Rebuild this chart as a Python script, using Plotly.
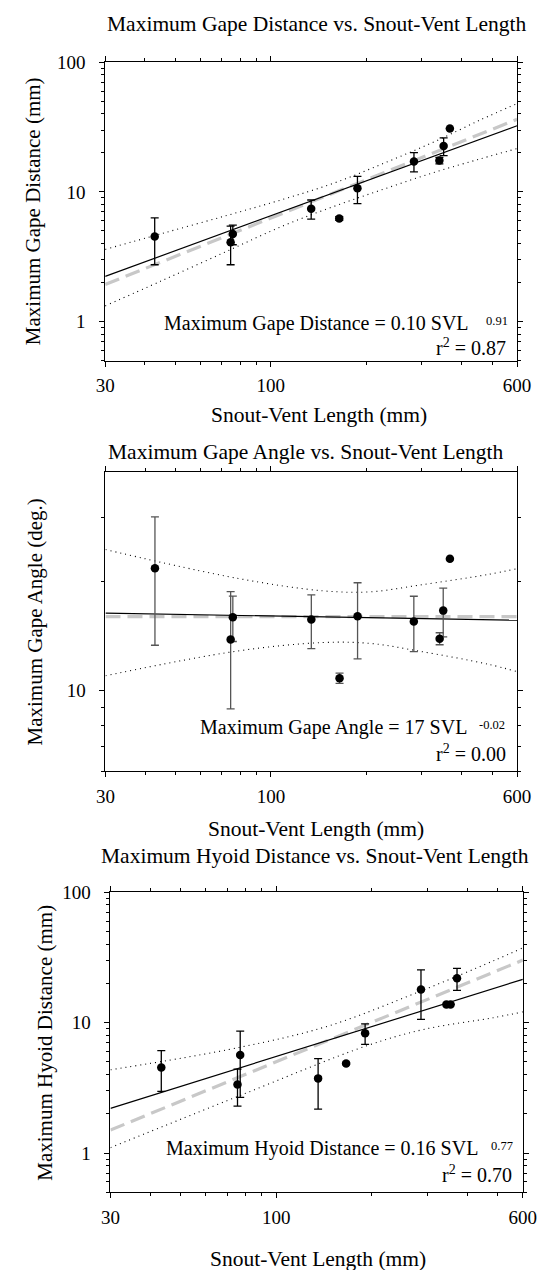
import math
import plotly.graph_objects as go

W, H = 555, 1270
FONT = "Liberation Serif"

# ---------------- data ----------------
# Panel 1: Maximum Gape Distance (mm)
gd_svl = [43.0, 75.9, 74.7, 134.2, 164.6, 187.9, 283.4, 341.0, 351.7, 368.0]
gd_val = [4.52, 4.73, 4.09, 7.41, 6.24, 10.66, 17.16, 17.46, 22.6, 30.9]
gd_err = [1.78, 0.82, 1.35, 1.25, 0.2, 2.53, 2.9, 1.0, 3.55, None]
gd_fit_x = [30, 600]
gd_fit_y = [2.23, 32.4]
gd_alt_y = [1.93, 36.3]
gd_band_x = [30, 45, 73, 110, 160, 230, 330, 460, 600]
gd_band_hi = [3.6, 4.75, 6.6, 8.8, 11.8, 16.8, 24.5, 36.0, 48.0]
gd_band_lo = [1.32, 2.05, 3.5, 5.5, 7.8, 10.6, 14.2, 18.0, 21.6]

# Panel 2: Maximum Gape Angle (deg.)
ga_svl = [43.0, 75.8, 74.6, 134.2, 164.8, 187.9, 283.0, 341.5, 350.5, 368.0]
ga_val = [21.75, 15.95, 13.84, 15.72, 10.83, 16.05, 15.52, 13.92, 16.63, 23.1]
ga_err = [8.4, 2.28, 4.93, 2.66, 0.35, 3.8, 2.7, 0.53, 2.56, None]
ga_fit_x = [30, 600]
ga_fit_y = [16.36, 15.65]
ga_alt_y = [16.0, 16.0]
ga_band_x = [30, 78, 146, 207, 294, 483, 600]
ga_band_hi = [24.5, 20.43, 18.86, 18.74, 19.55, 20.9, 21.7]
ga_band_lo = [11.0, 12.86, 13.58, 13.5, 12.86, 11.85, 11.29]

# Panel 3: Maximum Hyoid Distance (mm)
hd_svl = [43.4, 77.0, 75.5, 135.6, 166.2, 190.8, 286.3, 344.4, 355.0, 372.0]
hd_val = [4.54, 5.64, 3.35, 3.74, 4.87, 8.3, 18.0, 13.8, 13.8, 21.9]
hd_err = [1.57, 2.97, 1.06, 1.57, 0.1, 1.48, 7.4, None, None, 4.2]
hd_fit_x = [30, 600]
hd_fit_y = [2.2, 21.5]
hd_alt_y = [1.5, 30.2]
hd_hi_x = [30, 76.5, 146.6, 286, 483, 600]
hd_band_hi = [4.35, 6.46, 9.46, 17.5, 29.7, 37.5]
hd_lo_x = [30, 76.5, 193, 294, 483, 600]
hd_band_lo = [1.10, 2.75, 6.65, 8.91, 10.9, 12.1]

# tick definitions
x_ticks = [30, 100, 600]
x_ticktext = ["30", "100", "600"]
x_minor = [40, 50, 60, 70, 80, 90, 200, 300, 400, 500]
y_ticks_mm = [1, 10, 100]
y_ticktext_mm = ["1", "10", "100"]
y_minor_mm = [0.5, 0.6, 0.7, 0.8, 0.9, 2, 3, 4, 5, 6, 7, 8, 9, 20, 30, 40, 50, 60, 70, 80, 90]
y_ticks_deg = [10]
y_ticktext_deg = ["10"]
y_minor_deg = [6, 7, 8, 9, 20, 30]

titles = ["Maximum Gape Distance vs. Snout-Vent Length",
          "Maximum Gape Angle vs. Snout-Vent Length",
          "Maximum Hyoid Distance vs. Snout-Vent Length"]
y_titles = ["Maximum Gape Distance (mm)", "Maximum Gape Angle (deg.)",
            "Maximum Hyoid Distance (mm)"]
x_title = "Snout-Vent Length (mm)"
eq_texts = ["Maximum Gape Distance = 0.10 SVL", "Maximum Gape Angle = 17 SVL",
            "Maximum Hyoid Distance = 0.16 SVL"]
eq_exps = ["0.91", "-0.02", "0.77"]
r2_texts = ["r<sup>2</sup> = 0.87", "r<sup>2</sup> = 0.00", "r<sup>2</sup> = 0.70"]

# ---------------- layout geometry (pixels) ----------------
def fx(px):
    return px / W

def fy(py):
    return 1 - py / H

panels = [
    dict(x0=99.5, x1=530, y0=52.7, y1=353.3, yr=[math.log10(0.5), 2]),
    dict(x0=99.8, x1=530, y0=466, y1=767.3, yr=[math.log10(6), math.log10(40)]),
    dict(x0=105, x1=536, y0=889.3, y1=1191.7, yr=[math.log10(0.5), 2]),
]

fig = go.Figure()

series = [
    (gd_svl, gd_val, gd_err, gd_fit_x, gd_fit_y, gd_alt_y, gd_band_x, gd_band_hi, gd_band_x, gd_band_lo, "#000000"),
    (ga_svl, ga_val, ga_err, ga_fit_x, ga_fit_y, ga_alt_y, ga_band_x, ga_band_hi, ga_band_x, ga_band_lo, "#555555"),
    (hd_svl, hd_val, hd_err, hd_fit_x, hd_fit_y, hd_alt_y, hd_hi_x, hd_band_hi, hd_lo_x, hd_band_lo, "#000000"),
]

for i, (sx, sy, se, fxv, fyv, ayv, bhx, bhy, blx, bly, ecol) in enumerate(series):
    xa = "x" if i == 0 else f"x{i+1}"
    ya = "y" if i == 0 else f"y{i+1}"
    common = dict(xaxis=xa, yaxis=ya, showlegend=False, hoverinfo="skip")
    fig.add_trace(go.Scatter(x=bhx, y=bhy, mode="lines", line_shape="spline",
                             line=dict(color="black", width=1.1, dash="1px,4px"), **common))
    fig.add_trace(go.Scatter(x=blx, y=bly, mode="lines", line_shape="spline",
                             line=dict(color="black", width=1.1, dash="1px,4px"), **common))
    fig.add_trace(go.Scatter(x=fxv, y=ayv, mode="lines",
                             line=dict(color="#c8c8c8", width=3.2, dash="15px,7px"), **common))
    fig.add_trace(go.Scatter(x=fxv, y=fyv, mode="lines",
                             line=dict(color="black", width=1.2), **common))
    fig.add_trace(go.Scatter(x=sx, y=sy, mode="markers",
                             marker=dict(color="black", size=8.5, symbol="circle"),
                             error_y=dict(type="data", array=se, symmetric=True, color=ecol,
                                          thickness=1.3, width=4),
                             **common))

tickfont = dict(family=FONT, size=19, color="black")

for i, p in enumerate(panels):
    sfx = "" if i == 0 else str(i + 1)
    xdom = [fx(p["x0"]), fx(p["x1"])]
    ydom = [fy(p["y1"]), fy(p["y0"])]
    fig.layout["xaxis" + sfx] = dict(
        type="log", range=[math.log10(30), math.log10(600)], domain=xdom,
        anchor="y" + sfx, tickvals=x_ticks, ticktext=x_ticktext,
        ticks="outside", ticklen=5, tickwidth=1, tickcolor="black",
        minor=dict(tickvals=x_minor, ticks="outside", ticklen=3, tickwidth=1,
                   tickcolor="black", showgrid=False),
        showline=True, linecolor="black", linewidth=1, mirror="allticks",
        showgrid=False, zeroline=False, tickfont=tickfont, ticklabelstandoff=3)
    if i == 1:
        yt, ytt, ym = y_ticks_deg, y_ticktext_deg, y_minor_deg
    else:
        yt, ytt, ym = y_ticks_mm, y_ticktext_mm, y_minor_mm
    fig.layout["yaxis" + sfx] = dict(
        type="log", range=p["yr"], domain=ydom, anchor="x" + sfx,
        tickvals=yt, ticktext=ytt,
        ticks="outside", ticklen=5, tickwidth=1, tickcolor="black",
        minor=dict(tickvals=ym, ticks="outside", ticklen=3, tickwidth=1,
                   tickcolor="black", showgrid=False),
        showline=True, linecolor="black", linewidth=1, mirror="allticks",
        showgrid=False, zeroline=False, tickfont=tickfont, ticklabelstandoff=10)

ann = []

def add_text(text, px, py, size, xanchor="center", yanchor="middle", angle=0):
    ann.append(dict(text=text, x=fx(px), y=fy(py), xref="paper", yref="paper",
                    xanchor=xanchor, yanchor=yanchor, showarrow=False, textangle=angle,
                    font=dict(family=FONT, size=size, color="black")))

title_pos = [(320, 14), (309, 446), (318.6, 853)]
xt_pos = [(322.7, 408), (320, 826), (322, 1259)]
yt_pos = [(24.8, 203), (26.5, 617), (37, 1040.5)]
eq_pos = [(482, 315.5), (480, 723), (491, 1147.5)]
exp_pos = [(495, 313), (488.5, 721), (501, 1145)]
r2_pos = [(521, 340), (521, 749), (527, 1173)]

for i in range(3):
    add_text(titles[i], *title_pos[i], 21.5)
    add_text(x_title, *xt_pos[i], 21.5)
    add_text(y_titles[i], *yt_pos[i], 21, angle=-90)
    add_text(eq_texts[i], *eq_pos[i], 20, xanchor="right")
    add_text(eq_exps[i], *exp_pos[i], 12.5, xanchor="left")
    add_text(r2_texts[i], *r2_pos[i], 20, xanchor="right")

fig.update_layout(
    width=W, height=H, margin=dict(l=0, r=0, t=0, b=0),
    paper_bgcolor="white", plot_bgcolor="white",
    annotations=ann, showlegend=False,
    font=dict(family=FONT, color="black"),
)

fig.write_html("out.html")
